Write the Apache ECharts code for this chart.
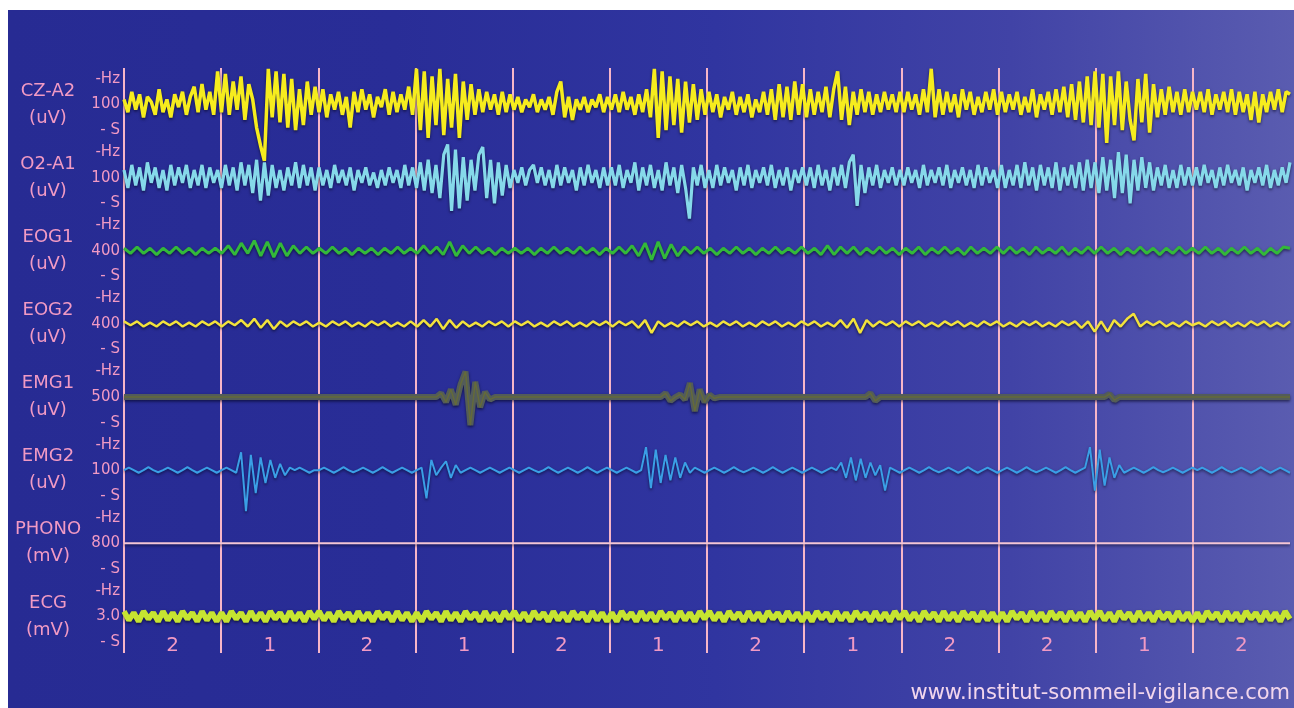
<!DOCTYPE html>
<html>
<head>
<meta charset="utf-8">
<script src="https://cdn.jsdelivr.net/npm/echarts@6/dist/echarts.min.js"></script>
<style>
  html, body { margin: 0; padding: 0; background: #fff; overflow: hidden; }
  #main {
    position: absolute; left: 8px; top: 10px; width: 1286px; height: 698px;
    background: linear-gradient(90deg, #272b93 0%, #292d97 30%, #3035a0 55%, #4143a6 78%, #5a5cb0 100%);
  }
</style>
</head>
<body>
<div id="main"></div>
<script>
// hypnogramme : stade de sommeil par epoque
var stages = [2, 1, 2, 1, 2, 1, 2, 1, 2, 2, 1, 2];
var channels = ['CZ-A2', 'O2-A1', 'EOG1', 'EOG2', 'EMG1', 'EMG2', 'PHONO', 'ECG'];
var units = ['(uV)', '(uV)', '(uV)', '(uV)', '(uV)', '(uV)', '(mV)', '(mV)'];
var scaleLabels = ['100', '100', '400', '400', '500', '100', '800', '3.0'];

// traces (1 ligne = 1 epoque)
var czA2 = [
  0.2,-0.3,0.5,-0.2,0.4,-0.5,0.3,0.1,-0.4,0.6,-0.3,0.2,-0.5,0.4,-0.1,0.5,-0.4,0.3,0.7,-0.3,0.8,-0.2,0.5,-0.4,1.3,
  -0.3,1.2,-0.4,0.9,-0.2,1.1,-0.6,0.8,0.2,-0.9,-1.6,-2.2,1.4,-0.5,1.3,-0.7,1.2,-0.9,1.0,-1.0,0.6,-0.8,0.9,-0.4,0.7,
  -0.3,0.6,-0.5,0.4,-0.2,0.5,-0.4,0.3,-0.9,0.5,-0.3,0.6,-0.2,0.4,-0.5,0.3,-0.1,0.6,-0.4,0.5,-0.3,0.4,-0.2,0.7,-0.4,
  1.4,-1.0,1.3,-1.3,1.1,-0.8,1.4,-1.2,1.0,-0.9,1.2,-1.3,0.9,-0.6,0.8,-0.4,0.6,-0.3,0.5,-0.2,0.4,-0.4,0.5,-0.3,0.4,
  -0.2,0.3,-0.3,0.2,-0.1,0.4,-0.3,0.2,-0.2,0.3,-0.4,0.5,0.9,-0.5,0.3,-0.6,0.2,-0.2,0.3,-0.3,0.2,-0.1,0.4,-0.3,0.3,
  -0.2,0.4,-0.3,0.5,-0.2,0.3,-0.4,0.4,-0.3,0.6,-0.5,1.4,-1.3,1.3,-1.0,1.1,-0.8,1.0,-1.1,0.9,-0.7,0.8,-0.6,0.6,-0.4,
  0.5,-0.3,0.4,-0.5,0.3,-0.2,0.5,-0.4,0.3,-0.3,0.4,-0.5,0.2,-0.3,0.5,-0.4,0.6,-0.6,0.8,-0.5,0.7,-0.6,0.9,-0.4,0.8,
  -0.5,0.6,-0.4,0.5,-0.3,0.7,-0.5,0.6,1.3,-0.6,0.7,-0.8,0.5,-0.4,0.6,-0.3,0.5,-0.4,0.4,-0.3,0.5,-0.2,0.4,-0.3,0.5,
  -0.3,0.5,-0.2,0.4,-0.4,0.6,-0.3,1.4,-0.5,0.6,-0.4,0.5,-0.3,0.4,-0.5,0.6,-0.2,0.5,-0.4,0.3,-0.3,0.5,-0.2,0.6,-0.4,
  0.5,-0.3,0.4,-0.2,0.5,-0.4,0.3,-0.3,0.6,-0.5,0.4,-0.2,0.5,-0.4,0.6,-0.3,0.7,-0.5,0.8,-0.6,0.9,-0.7,1.1,-0.8,1.3,
  -0.9,1.2,-1.5,1.1,-0.8,1.3,-1.0,0.9,-0.6,-1.4,1.0,-0.7,1.2,-1.1,0.8,-0.5,0.6,-0.4,0.7,-0.3,0.5,-0.4,0.6,-0.3,0.5,
  -0.2,0.5,-0.3,0.6,-0.4,0.4,-0.2,0.5,-0.3,0.6,-0.4,0.5,-0.3,0.4,-0.6,0.5,-0.7,0.4,-0.3,0.5,-0.2,0.6,-0.3,0.5,0.4
];
var o2A1 = [
  0.3,-0.4,0.5,-0.3,0.4,-0.5,0.6,-0.2,0.4,-0.4,0.3,-0.5,0.5,-0.3,0.4,-0.2,0.5,-0.4,0.3,-0.3,0.5,-0.4,0.4,-0.2,0.3,
  -0.4,0.5,-0.3,0.4,-0.5,0.6,-0.3,0.5,-0.6,0.7,-0.9,0.6,-0.7,0.5,-0.4,0.3,-0.5,0.4,-0.3,0.6,-0.4,0.5,-0.3,0.4,-0.5,
  0.4,-0.3,0.3,-0.4,0.5,-0.2,0.3,-0.3,0.4,-0.5,0.3,-0.2,0.4,-0.3,0.2,-0.4,0.3,-0.3,0.4,-0.2,0.3,-0.4,0.5,-0.3,0.4,
  -0.4,0.6,-0.5,0.7,-0.6,0.5,-0.8,0.9,1.3,-1.3,1.1,-1.2,0.8,-0.9,0.7,-0.5,0.9,1.2,-0.8,0.7,-1.0,0.6,-0.7,0.5,-0.4,
  0.3,-0.2,0.4,-0.3,0.3,0.5,-0.2,0.4,-0.3,0.3,-0.4,0.5,-0.3,0.4,-0.2,0.3,-0.5,0.4,-0.3,0.5,-0.2,0.3,-0.4,0.4,-0.3,
  0.4,-0.3,0.5,-0.4,0.3,-0.2,0.6,-0.5,0.4,-0.3,0.5,-0.4,0.3,-0.5,0.6,-0.3,0.4,-0.6,0.5,-0.4,-1.6,0.4,-0.3,0.5,-0.4,
  0.3,-0.4,0.5,-0.3,0.4,-0.2,0.3,-0.5,0.4,-0.3,0.5,-0.4,0.3,-0.2,0.4,-0.3,0.5,-0.4,0.3,-0.3,0.4,-0.5,0.3,-0.2,0.4,
  -0.3,0.4,-0.4,0.5,-0.3,0.3,-0.5,0.4,-0.3,0.5,-0.4,0.6,0.9,-1.1,0.5,-0.6,0.4,-0.3,0.5,-0.4,0.3,-0.2,0.4,-0.3,0.3,
  -0.3,0.4,-0.2,0.3,-0.4,0.5,-0.3,0.3,-0.2,0.4,-0.3,0.5,-0.4,0.3,-0.2,0.4,-0.3,0.3,-0.4,0.5,-0.3,0.4,-0.2,0.3,-0.4,
  0.5,-0.4,0.3,-0.3,0.5,-0.4,0.6,-0.3,0.4,-0.5,0.5,-0.3,0.4,-0.4,0.6,-0.5,0.4,-0.3,0.5,-0.4,0.6,-0.5,0.7,-0.4,0.6,
  -0.6,0.8,-0.5,0.7,-0.8,1.0,-0.6,0.9,-1.0,0.7,-0.5,0.8,-0.4,0.6,-0.5,0.4,-0.3,0.5,-0.4,0.3,-0.4,0.5,-0.3,0.4,-0.3,
  0.4,-0.3,0.5,-0.2,0.3,-0.4,0.4,-0.3,0.5,-0.2,0.3,-0.3,0.4,-0.5,0.3,-0.2,0.4,-0.3,0.5,-0.4,0.3,-0.3,0.4,-0.2,0.6
];
var eog1 = [
  0.1,-0.1,0.15,-0.1,0.1,-0.15,0.1,-0.1,0.15,-0.1,0.1,-0.15,0.1,-0.1,0.1,
  -0.1,0.2,-0.15,0.3,-0.1,0.4,-0.2,0.35,-0.25,0.3,-0.2,0.2,-0.1,0.15,-0.1,
  0.1,-0.1,0.15,-0.1,0.1,-0.15,0.1,-0.1,0.1,-0.15,0.1,-0.1,0.15,-0.1,0.1,
  -0.1,0.2,-0.1,0.15,-0.15,0.35,-0.2,0.2,-0.1,0.15,-0.1,0.1,-0.15,0.1,-0.1,
  0.1,-0.1,0.1,-0.15,0.1,-0.1,0.15,-0.1,0.1,-0.1,0.15,-0.1,0.1,-0.15,0.1,
  -0.1,0.15,-0.1,0.2,-0.2,0.3,-0.35,0.35,-0.3,0.25,-0.2,0.15,-0.1,0.15,-0.1,
  0.1,-0.15,0.1,-0.1,0.15,-0.1,0.1,-0.15,0.1,-0.1,0.15,-0.1,0.1,-0.1,0.15,
  -0.1,0.1,-0.15,0.2,-0.15,0.15,-0.1,0.15,-0.15,0.1,-0.1,0.15,-0.1,0.1,-0.15,
  0.1,-0.1,0.15,-0.15,0.1,-0.1,0.15,-0.1,0.1,-0.15,0.15,-0.1,0.1,-0.1,0.15,
  -0.1,0.15,-0.1,0.1,-0.15,0.15,-0.1,0.1,-0.1,0.15,-0.15,0.1,-0.1,0.15,-0.1,
  0.15,-0.1,0.1,-0.15,0.1,-0.1,0.15,-0.1,0.1,-0.15,0.1,-0.1,0.15,-0.1,0.1,
  -0.1,0.15,-0.1,0.1,-0.15,0.1,-0.1,0.15,-0.1,0.1,-0.15,0.1,-0.1,0.15,0.1
];
var eog2 = [
  0.1,-0.05,0.1,-0.1,0.05,-0.1,0.1,-0.05,0.1,-0.1,0.05,-0.1,0.1,-0.05,0.1,
  -0.1,0.1,-0.05,0.15,-0.1,0.2,-0.15,0.15,-0.2,0.1,-0.1,0.1,-0.05,0.1,-0.1,
  0.05,-0.1,0.1,-0.05,0.1,-0.1,0.05,-0.1,0.1,-0.05,0.1,-0.1,0.05,-0.1,0.1,
  -0.1,0.15,-0.1,0.2,-0.2,0.15,-0.15,0.1,-0.1,0.05,-0.1,0.1,-0.05,0.1,-0.1,
  0.1,-0.05,0.1,-0.1,0.05,-0.1,0.1,-0.05,0.1,-0.1,0.05,-0.1,0.1,-0.05,0.1,
  -0.1,0.1,-0.05,0.1,-0.15,0.15,-0.35,0.1,-0.1,0.05,-0.1,0.1,-0.05,0.1,-0.1,
  0.05,-0.1,0.1,-0.05,0.1,-0.1,0.05,-0.1,0.1,-0.05,0.1,-0.1,0.05,-0.1,0.1,
  -0.05,0.1,-0.1,0.05,-0.1,0.15,-0.15,0.2,-0.35,0.15,-0.1,0.1,-0.05,0.1,-0.1,
  0.1,-0.05,0.1,-0.1,0.05,-0.1,0.1,-0.05,0.1,-0.1,0.05,-0.1,0.1,-0.05,0.1,
  -0.1,0.05,-0.1,0.1,-0.05,0.1,-0.1,0.05,-0.1,0.1,-0.05,0.1,-0.15,0.1,-0.3,
  0.1,-0.3,0.15,-0.1,0.2,0.4,-0.1,0.1,-0.05,0.1,-0.1,0.05,-0.1,0.1,-0.05,
  0.05,-0.1,0.1,-0.05,0.1,-0.1,0.05,-0.1,0.1,-0.05,0.1,-0.1,0.05,-0.1,0.1
];
var emg1 = [
  0,0,0,0,0,0,0,0,0,0,0,0,0,0,0,0,0,0,0,0,
  0,0,0,0,0,0,0,0,0,0,0,0,0,0,0,0,0,0,0,0,
  0,0,0,0,0,0,0,0,0,0,0,0,0,0,0,0,0,0,0,0,
  0,0,0,0,0,0.15,-0.2,0.3,-0.3,0.5,1.0,-1.1,0.6,-0.4,0.2,-0.1,0,0,0,0,
  0,0,0,0,0,0,0,0,0,0,0,0,0,0,0,0,0,0,0,0,
  0,0,0,0,0,0,0,0,0,0,0,0.15,-0.15,0,0.1,-0.1,0.55,-0.55,0.3,-0.2,
  0.1,-0.05,0,0,0,0,0,0,0,0,0,0,0,0,0,0,0,0,0,0,
  0,0,0,0,0,0,0,0,0,0,0,0,0,0.15,-0.15,0,0,0,0,0,
  0,0,0,0,0,0,0,0,0,0,0,0,0,0,0,0,0,0,0,0,
  0,0,0,0,0,0,0,0,0,0,0,0,0,0,0,0,0,0,0,0,
  0,0,0.12,-0.12,0,0,0,0,0,0,0,0,0,0,0,0,0,0,0,0,
  0,0,0,0,0,0,0,0,0,0,0,0,0,0,0,0,0,0,0,0
];
var emg2 = [
  0,0.1,0,-0.1,0,0.12,0,-0.08,0,0.1,0,-0.1,0,0.12,0,-0.1,0,0.1,0,-0.1,
  0,0.1,0,-0.1,0.7,-1.6,0.6,-0.9,0.5,-0.5,0.4,-0.3,0.25,-0.2,0.1,0,0.1,0,-0.1,0,
  0,0.1,0,-0.1,0,0.12,0,-0.08,0,0.1,0,-0.1,0,0.12,0,-0.1,0,0.1,0,-0.1,
  0,0.1,-1.1,0.4,-0.2,0.1,0.35,-0.3,0.2,-0.1,0,0.1,0,-0.1,0,0.1,0,-0.1,0,0.1,
  0,-0.1,0,0.1,0,-0.08,0,0.12,0,-0.1,0,0.1,0,-0.1,0,0.12,0,-0.1,0,0.1,
  0,-0.1,0,0.1,0,-0.1,0,0.9,-0.7,0.8,-0.5,0.6,-0.4,0.5,-0.3,0.3,-0.1,0.1,0,-0.1,
  0,0.1,0,-0.1,0,0.12,0,-0.08,0,0.1,0,-0.1,0,0.12,0,-0.1,0,0.1,0,-0.1,
  0,0.1,0,-0.1,0,0.1,0,0.3,-0.3,0.5,-0.4,0.45,-0.3,0.3,-0.2,0.2,-0.8,0.1,0,-0.1,
  0,0.1,0,-0.1,0,0.12,0,-0.08,0,0.1,0,-0.1,0,0.12,0,-0.1,0,0.1,0,-0.1,
  0,0.1,0,-0.1,0,0.12,0,-0.08,0,0.1,0,-0.1,0,0.12,0,-0.1,0,0.1,0.9,-0.8,
  0.8,-0.6,0.5,-0.3,0.2,-0.1,0,0.1,0,-0.1,0,0.12,0,-0.08,0,0.1,0,-0.1,0,0.1,
  0,0.1,0,-0.1,0,0.12,0,-0.08,0,0.1,0,-0.1,0,0.12,0,-0.1,0,0.1,0,-0.1
];
var phono = [0, 0, 0, 0, 0, 0, 0, 0, 0, 0, 0, 0, 0];
var ecg = [
  0.2,-0.15,0.15,-0.2,0.2,-0.1,0.15,-0.2,0.2,-0.15,0.15,-0.2,0.2,-0.1,0.15,-0.2,0.2,-0.15,0.15,-0.2,
  0.15,-0.2,0.2,-0.1,0.15,-0.2,0.2,-0.15,0.15,-0.2,0.2,-0.1,0.15,-0.2,0.2,-0.15,0.15,-0.2,0.2,-0.1,
  0.2,-0.15,0.15,-0.2,0.2,-0.1,0.15,-0.2,0.2,-0.15,0.15,-0.2,0.2,-0.1,0.15,-0.2,0.2,-0.15,0.15,-0.2,
  0.15,-0.2,0.2,-0.1,0.15,-0.2,0.2,-0.15,0.15,-0.2,0.2,-0.1,0.15,-0.2,0.2,-0.15,0.15,-0.2,0.2,-0.1,
  0.2,-0.15,0.15,-0.2,0.2,-0.1,0.15,-0.2,0.2,-0.15,0.15,-0.2,0.2,-0.1,0.15,-0.2,0.2,-0.15,0.15,-0.2,
  0.15,-0.2,0.2,-0.1,0.15,-0.2,0.2,-0.15,0.15,-0.2,0.2,-0.1,0.15,-0.2,0.2,-0.15,0.15,-0.2,0.2,-0.1,
  0.2,-0.15,0.15,-0.2,0.2,-0.1,0.15,-0.2,0.2,-0.15,0.15,-0.2,0.2,-0.1,0.15,-0.2,0.2,-0.15,0.15,-0.2,
  0.15,-0.2,0.2,-0.1,0.15,-0.2,0.2,-0.15,0.15,-0.2,0.2,-0.1,0.15,-0.2,0.2,-0.15,0.15,-0.2,0.2,-0.1,
  0.2,-0.15,0.15,-0.2,0.2,-0.1,0.15,-0.2,0.2,-0.15,0.15,-0.2,0.2,-0.1,0.15,-0.2,0.2,-0.15,0.15,-0.2,
  0.15,-0.2,0.2,-0.1,0.15,-0.2,0.2,-0.15,0.15,-0.2,0.2,-0.1,0.15,-0.2,0.2,-0.15,0.15,-0.2,0.2,-0.1,
  0.2,-0.15,0.15,-0.2,0.2,-0.1,0.15,-0.2,0.2,-0.15,0.15,-0.2,0.2,-0.1,0.15,-0.2,0.2,-0.15,0.15,-0.2,
  0.15,-0.2,0.2,-0.1,0.15,-0.2,0.2,-0.15,0.15,-0.2,0.2,-0.1,0.15,-0.2,0.2,-0.15,0.15,-0.2,0.2,-0.1
];

var traces = [czA2, o2A1, eog1, eog2, emg1, emg2, phono, ecg];
var colors = ['#f6ec1e', '#86d9ea', '#33b83a', '#f2e23c', '#535c5a', '#3a9fe6', '#f4c6d6', '#c6e431'];
var widths = [3.5, 3.2, 3, 2.5, 6, 2, 2, 5.5];

var chartDom = document.getElementById('main');
var myChart = echarts.init(chartDom);

var pink = '#f19ac4';
var left = 116, top0 = 58, bandH = 73.125;
var nEpochs = stages.length;
var epochEdges = [];
for (var e = 0; e < nEpochs; e++) epochEdges.push(e);
var epochMids = epochEdges.map(function (e) { return e + 0.5; });

var grids = [], xAxes = [], yAxes = [], series = [];
channels.forEach(function (name, i) {
  var last = i === channels.length - 1;
  grids.push({ left: left, right: 4, top: top0 + i * bandH, height: bandH });
  xAxes.push({
    type: 'value', gridIndex: i, min: 0, max: nEpochs, position: 'bottom',
    axisLine: { show: false, onZero: false },
    splitLine: { show: false },
    axisTick: {
      show: true, inside: true, length: bandH, customValues: epochEdges,
      lineStyle: { color: '#f7b6c8', width: 2 }
    },
    axisLabel: last ? {
      show: true, inside: false, margin: -17, customValues: epochMids,
      color: pink, fontSize: 20, fontFamily: 'DejaVu Sans',
      formatter: function (v) { return String(stages[Math.floor(v)]); }
    } : { show: false }
  });
  yAxes.push({
    type: 'value', gridIndex: i, min: -1.43, max: 1.43,
    axisLine: { show: false }, axisTick: { show: false }, splitLine: { show: false },
    axisLabel: {
      customValues: [-1, 0, 1], margin: 4,
      color: pink, fontSize: 15, fontFamily: 'DejaVu Sans',
      formatter: function (v) { return v === 0 ? scaleLabels[i] : (v > 0 ? '-Hz' : '- S'); }
    },
    name: name + '\n' + units[i],
    nameLocation: 'middle', nameRotate: 0, nameGap: 76,
    nameTextStyle: { color: pink, fontSize: 18, lineHeight: 27, align: 'center', fontFamily: 'DejaVu Sans' }
  });
  var vals = traces[i];
  var pts = vals.map(function (v, k) { return [k * nEpochs / (vals.length - 1), v]; });
  series.push({
    type: 'line', name: name, xAxisIndex: i, yAxisIndex: i,
    data: pts, symbol: 'none', clip: false, z: 3,
    lineStyle: {
      color: colors[i], width: widths[i],
      shadowColor: 'rgba(0,0,20,0.6)', shadowBlur: 3, shadowOffsetY: 1.5
    }
  });
  if (name === 'EMG1') {
    // bouffees musculaires en vert olive par-dessus la ligne grise
    series.push({
      type: 'line', name: name + '-burst', xAxisIndex: i, yAxisIndex: i,
      data: pts, symbol: 'none', clip: false, z: 4,
      lineStyle: { color: '#646a3a', width: 1.5 }
    });
  }
});

var option = {
  backgroundColor: 'transparent',
  animation: false,
  grid: grids,
  xAxis: xAxes,
  yAxis: yAxes,
  series: series,
  graphic: [{
    type: 'text', right: 4, bottom: 4,
    style: {
      text: 'www.institut-sommeil-vigilance.com',
      fill: '#f2d6ec', fontSize: 21, fontFamily: 'DejaVu Sans'
    }
  }]
};

option && myChart.setOption(option);
</script>
</body>
</html>
